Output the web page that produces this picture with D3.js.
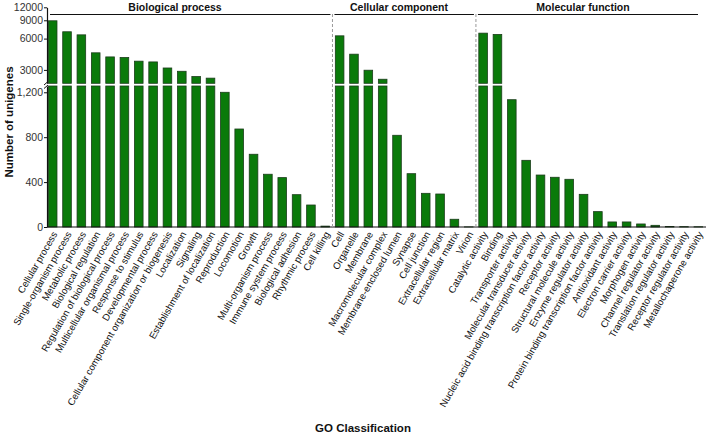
<!DOCTYPE html>
<html><head><meta charset="utf-8">
<script src="https://cdn.jsdelivr.net/npm/d3@7"></script>
<style>
body{margin:0;background:#fff;}
svg{font-family:"Liberation Sans",Arial,sans-serif;}
</style></head>
<body><svg id="c" width="708" height="436"></svg>
<script>
const bioCats = ["Cellular process","Single-organism process","Metabolic process","Biological regulation","Regulation of biological process","Multicellular organismal process","Response to stimulus","Developmental process","Cellular component organization or biogenesis","Localization","Signaling","Establishment of localization","Reproduction","Locomotion","Growth","Multi-organism process","Immune system process","Biological adhesion","Rhythmic process","Cell killing"];
const bioVals = [8900,6980,6520,4380,4000,3950,3640,3580,3130,2910,2590,2500,1200,873,648,470,440,288,196,8];
const ccCats = ["Cell","Organelle","Membrane","Macromolecular complex","Membrane-enclosed lumen","Synapse","Cell junction","Extracellular region","Extracellular matrix","Virion"];
const ccVals = [6380,4250,2980,2440,817,475,300,294,69,1];
const mfCats = ["Catalytic activity","Binding","Transporter activity","Molecular transducer activity","Nucleic acid binding transcription factor activity","Receptor activity","Structural molecule activity","Enzyme regulator activity","Protein binding transcription factor activity","Antioxidant activity","Electron carrier activity","Morphogen activity","Channel regulator activity","Translation regulator activity","Receptor regulator activity","Metallochaperone activity"];
const mfVals = [6770,6580,1134,594,463,443,425,291,137,45,45,27,15,5,3,2];
const groupNames = ["Biological process","Cellular component","Molecular function"];
const lowTicks = [0,400,800,1200];
const highTicks = [3000,6000,9000,12000];

const svg = d3.select("#c");
const cats = [...bioCats, ...ccCats, ...mfCats];
const vals = [...bioVals, ...ccVals, ...mfVals];
const data = cats.map((c,i)=>({c, v: vals[i]}));

const axisX = 47, baseY = 227;
const lowMax = 1256, highMin = 2230;
const x = d3.scaleBand().domain(cats).range([45.5, 705.5]).paddingInner(0.4).paddingOuter(0.2);
const yLow = d3.scaleLinear().domain([0, lowMax]).range([baseY, 86]);
const yHigh = d3.scaleLog().domain([highMin, 12000]).range([83.3, 7.3]);

const fill = "#0a7a0a", stroke = "#1b3d1b";
const g = svg.append("g");
g.selectAll("rect.low").data(data).join("rect")
  .attr("x", d=>x(d.c)).attr("width", x.bandwidth())
  .attr("y", d=>yLow(Math.min(d.v, lowMax)))
  .attr("height", d=>yLow(0)-yLow(Math.min(d.v, lowMax)))
  .attr("fill", fill).attr("stroke", stroke).attr("stroke-width", 0.8);
g.selectAll("rect.high").data(data.filter(d=>d.v>lowMax)).join("rect")
  .attr("x", d=>x(d.c)).attr("width", x.bandwidth())
  .attr("y", d=>yHigh(d.v))
  .attr("height", d=>yHigh(highMin)-yHigh(d.v))
  .attr("fill", fill).attr("stroke", stroke).attr("stroke-width", 0.8);

const axLow = svg.append("g").attr("transform",`translate(${axisX},0)`)
  .call(d3.axisLeft(yLow).tickValues(lowTicks).tickSize(3).tickSizeOuter(0));
const axHigh = svg.append("g").attr("transform",`translate(${axisX},0)`)
  .call(d3.axisLeft(yHigh).tickValues(highTicks).tickFormat(d3.format("d")).tickSize(3).tickSizeOuter(0));
[axLow, axHigh].forEach(a=>{
  a.select(".domain").attr("stroke","#111").attr("stroke-width",1.2);
  a.selectAll(".tick line").attr("stroke","#111");
  a.selectAll(".tick text").attr("font-size","10.5px").attr("fill","#333").attr("x",-4);
});
svg.append("line").attr("x1",axisX-3).attr("y1",85).attr("x2",axisX+1).attr("y2",81.5).attr("stroke","#111").attr("stroke-width",1);
svg.append("line").attr("x1",axisX-3).attr("y1",88.5).attr("x2",axisX+1).attr("y2",85).attr("stroke","#111").attr("stroke-width",1);

const ax = svg.append("g").attr("transform",`translate(0,${baseY})`)
  .call(d3.axisBottom(x).tickSize(0).tickSizeOuter(0));
ax.select(".domain").attr("d",`M${axisX},0H706`).attr("stroke","#111").attr("stroke-width",1.2);
ax.selectAll(".tick text")
  .attr("font-size","9.7px").attr("fill","#111")
  .attr("text-anchor","end").attr("dy",0).attr("y",0)
  .attr("transform","translate(5,7) rotate(-60)");

const n1 = bioCats.length, n2 = ccCats.length;
const step = x.step();
const sep1 = x(cats[n1]) - (step - x.bandwidth())/2;
const sep2 = x(cats[n1+n2]) - (step - x.bandwidth())/2;
[sep1, sep2].forEach(s=>{
  svg.append("line").attr("x1",s).attr("x2",s).attr("y1",14).attr("y2",baseY)
    .attr("stroke","#999").attr("stroke-width",1).attr("stroke-dasharray","3,2");
});
const segs = [[50, sep1-2, 175],[sep1+2, sep2-2, 399],[sep2+2, 698, 583]];
segs.forEach((s,i)=>{
  svg.append("line").attr("x1",s[0]).attr("x2",s[1]).attr("y1",14.5).attr("y2",14.5)
    .attr("stroke","#111").attr("stroke-width",1.2);
  svg.append("text").attr("x",s[2]).attr("y",10.5).attr("text-anchor","middle")
    .attr("font-size","10.5px").attr("font-weight","bold").attr("fill","#111").text(groupNames[i]);
});

svg.append("text").attr("transform","translate(12.5,122) rotate(-90)").attr("text-anchor","middle")
  .attr("font-size","11.5px").attr("font-weight","bold").attr("fill","#111").text("Number of unigenes");
svg.append("text").attr("x",363).attr("y",432).attr("text-anchor","middle")
  .attr("font-size","11.5px").attr("font-weight","bold").attr("fill","#111").text("GO Classification");
</script></body></html>
